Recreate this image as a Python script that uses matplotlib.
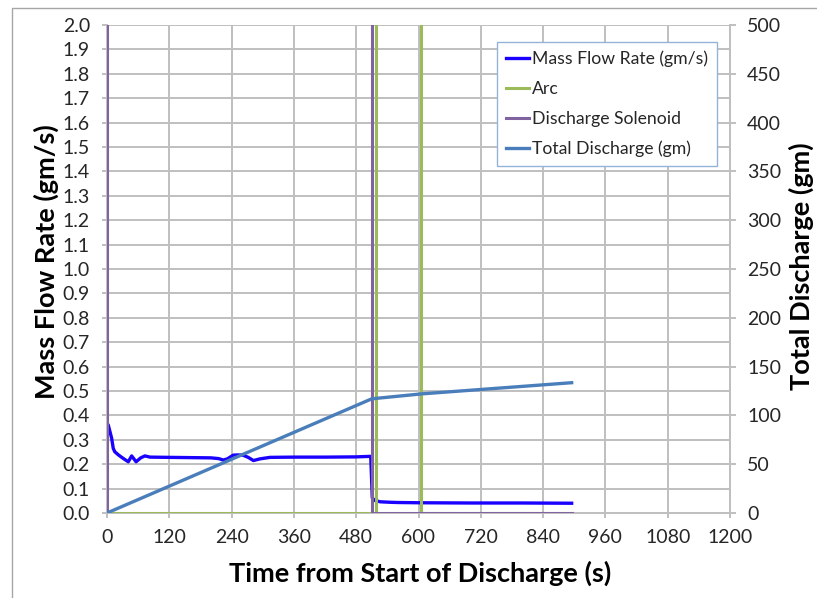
import matplotlib
matplotlib.use("Agg")
import matplotlib.pyplot as plt
from matplotlib.patches import Rectangle

plt.rcParams['font.family'] = ['Lato', 'DejaVu Sans']

# ---- data ----
flow_t = [0, 2.5, 9, 12, 15, 22, 31, 41, 47.5, 56, 65, 73, 83, 120, 160, 200,
          215, 224, 232, 243, 252, 262, 272, 282, 295, 314, 360, 420, 480, 505, 508,
          511, 515, 526, 545, 560, 600, 700, 800, 895]
flow_v = [0.368, 0.36, 0.306, 0.265, 0.251, 0.238, 0.224, 0.21, 0.234, 0.21, 0.226, 0.234,
          0.229, 0.228, 0.227, 0.226, 0.223, 0.217, 0.222, 0.237, 0.238, 0.237, 0.228, 0.215,
          0.222, 0.228, 0.229, 0.229, 0.23, 0.232, 0.232,
          0.062, 0.052, 0.046, 0.044, 0.043, 0.042, 0.041, 0.041, 0.04]

arc_t = [0, 518, 518, 605, 605, 895]
arc_v = [0, 0, 5, 5, 0, 0]

sol_t = [0, 0, 510, 510, 895]
sol_v = [0, 5, 5, 0, 0]

total_t = [0, 510, 605, 895]
total_v = [0, 117, 122, 133.5]

x_ticks = list(range(0, 1201, 120))
y_ticks = [i / 10 for i in range(0, 21)]
y2_ticks = list(range(0, 501, 50))

# ---- figure ----
W, H = 817, 598
fig = plt.figure(figsize=(W / 100, H / 100), dpi=100)
fig.patches.append(Rectangle((12 / W, -0.05), 1.2, 1 - 8 / H + 0.05, transform=fig.transFigure,
                             fill=False, edgecolor='#a6a6a6', linewidth=1.0))

left, right, top, bottom = 107, 730, 25, 513
ax = fig.add_axes([left / W, 1 - bottom / H, (right - left) / W, (bottom - top) / H])
ax2 = ax.twinx()

grid_c = '#bfbfbf'
txt_c = '#262626'
ax.plot(flow_t, flow_v, color='#1a00ff', lw=2.4, label='Mass Flow Rate (gm/s)', zorder=3)
ax.plot(arc_t, arc_v, color='#9bbb59', lw=2.2, label='Arc', zorder=3)
ax.plot(sol_t, sol_v, color='#8064a2', lw=2.2, label='Discharge Solenoid', zorder=3)
ax2.plot(total_t, total_v, color='#4a7ebb', lw=2.4, label='Total Discharge (gm)')

ax.set_xlim(0, 1200)
ax.set_ylim(0, 2.0)
ax2.set_ylim(0, 500)
ax.set_xticks(x_ticks)
ax.set_yticks(y_ticks)
ax.set_yticklabels([f'{v:.1f}' for v in y_ticks])
ax2.set_yticks(y2_ticks)

ax.grid(True, color=grid_c, lw=1.4)
ax.set_axisbelow(True)
for a in (ax, ax2):
    for s in a.spines.values():
        s.set_visible(False)
ax.spines['left'].set_visible(True)
ax.spines['bottom'].set_visible(True)
ax2.spines['right'].set_visible(True)
for s in (ax.spines['left'], ax.spines['bottom'], ax2.spines['right']):
    s.set_color(grid_c)
    s.set_linewidth(1.4)

ax.tick_params(axis='both', direction='out', length=3.8, width=1.4, color=grid_c,
               labelsize=14, labelcolor=txt_c)
ax.tick_params(axis='x', pad=8)
ax.tick_params(axis='y', pad=8.5)
ax2.tick_params(axis='y', direction='out', length=4.2, width=1.4, color=grid_c,
                labelsize=14, labelcolor=txt_c, pad=8.2)

fig.text(420 / W, 1 - 573 / H, 'Time from Start of Discharge (s)', fontsize=19.5,
         fontweight='bold', ha='center', va='center', color='black')
fig.text(46 / W, 1 - 262 / H, 'Mass Flow Rate (gm/s)', fontsize=19.5, rotation=90,
         fontweight='bold', ha='center', va='center', color='black')
fig.text(801 / W, 1 - 266 / H, 'Total Discharge (gm)', fontsize=19.5, rotation=90,
         fontweight='bold', ha='center', va='center', color='black')

h1, l1 = ax.get_legend_handles_labels()
h2, l2 = ax2.get_legend_handles_labels()
leg = ax2.legend(h1 + h2, l1 + l2, loc='upper left',
                 bbox_to_anchor=((497 - left) / (right - left), 1 - (42 - top) / (bottom - top)),
                 fontsize=12.7, frameon=True, fancybox=False, handlelength=1.3,
                 handletextpad=0.2, borderpad=0.5, labelspacing=0.78, borderaxespad=0)
leg.get_frame().set_edgecolor('#95b3d7')
leg.get_frame().set_linewidth(1.0)
leg.get_frame().set_alpha(1)
for t in leg.get_texts():
    t.set_color(txt_c)

fig.savefig('out.png', dpi=100)
